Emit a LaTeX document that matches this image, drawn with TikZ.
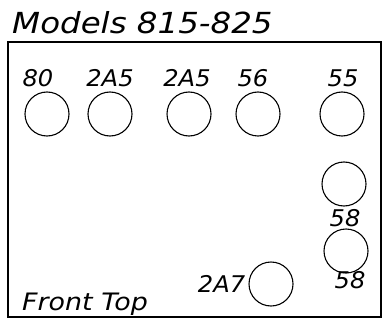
\documentclass[tikz,border=0pt]{standalone}
\usepackage{fontspec}
\setsansfont{DejaVu Sans}
\usetikzlibrary{positioning}
\tikzset{
    tube/.style={circle, draw, line width=1.1pt, minimum size=44pt, inner sep=0pt},
    tubename/.style={font=\sffamily\itshape\fontsize{23}{23}\selectfont, inner sep=0pt, xscale=1.05},
    chassis/.style={draw, line width=2.2pt},
    heading/.style={font=\sffamily\itshape\fontsize{29}{29}\selectfont, inner sep=0pt, xscale=1.12}
}

\begin{document}
\begin{tikzpicture}[x=1pt, y=-1pt]
\useasboundingbox (0,0) rectangle (387,331);

\node[heading, anchor=west] (title) at (12,23) {Models 815-825};
\draw[chassis] (8,42) rectangle (381,317);

% front row
\node[tube] (t80) at (47,114) {};
\node[tube] (t2a5a) at (110,114) {};
\node[tube] (t2a5b) at (189,114) {};
\node[tube] (t56) at (258,114) {};
\node[tube] (t55) at (342,114) {};

% right side and rear
\node[tube] (t58a) at (344,184) {};
\node[tube] (t58b) at (346,251) {};
\node[tube] (t2a7) at (271,284) {};

\node[tubename] (n80) at (38,78) {80};
\node[tubename] (n2a5a) at (110,78) {2A5};
\node[tubename] (n2a5b) at (187,78) {2A5};
\node[tubename] (n56) at (253,78) {56};
\node[tubename] (n55) at (343,78) {55};
\node[tubename] (n58a) at (345,218) {58};
\node[tubename] (n58b) at (350,280) {58};
\node[tubename, left=3pt of t2a7] (n2a7) {2A7};

\node[heading, font=\sffamily\itshape\fontsize{24}{24}\selectfont, anchor=west] (side) at (22,304) {Front Top};

\end{tikzpicture}
\end{document}
